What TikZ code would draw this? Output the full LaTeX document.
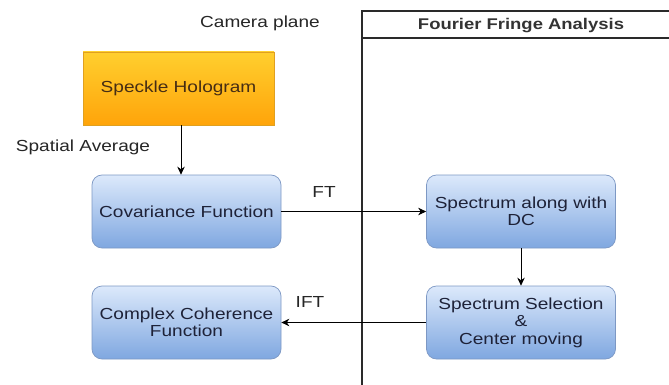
\documentclass[tikz,border=0pt]{standalone}
\usepackage{fontspec}
\setmainfont{Liberation Sans}
\usepackage{graphicx}
\usetikzlibrary{arrows.meta}
\definecolor{bluetop}{HTML}{DCE9FB}
\definecolor{bluebot}{HTML}{7FA7E0}
\definecolor{blueline}{HTML}{7D98C4}
\definecolor{ortop}{HTML}{FFCF2E}
\definecolor{orbot}{HTML}{FFA40A}
\definecolor{orline}{HTML}{E0A020}
\definecolor{txt}{HTML}{1E2238}
\definecolor{frame}{HTML}{2A2A2A}
\newcommand{\sx}[1]{\scalebox{1.19}[1]{#1}}
\tikzset{
  bluebox/.style={rectangle, rounded corners=10pt, draw=blueline, line width=0.7pt,
    top color=bluetop, bottom color=bluebot, minimum width=189pt, minimum height=73pt,
    inner sep=0pt, align=center, text=txt, font=\fontsize{16}{17.5}\selectfont},
  orbox/.style={rectangle, draw=orline, line width=0.7pt,
    top color=ortop, bottom color=orbot, minimum width=191pt, minimum height=73pt,
    inner sep=0pt, align=center, text={rgb,255:red,70;green,45;blue,20}, font=\fontsize{16}{17.5}\selectfont},
  lbl/.style={inner sep=0pt, text=black!85, font=\fontsize{16}{17.5}\selectfont},
  arr/.style={-{Stealth[length=8pt,width=7.5pt]}, line width=0.8pt, black},
  frameline/.style={line width=1.2pt, frame}
}
\begin{document}
\begin{tikzpicture}[x=1pt,y=-1pt]
\useasboundingbox (0,0) rectangle (669,385);
% frame
\coordinate (fb) at (362,385);
\coordinate (ft) at (362,11);
\coordinate (fr) at (669,11);
\coordinate (hl) at (362,38);
\coordinate (hr) at (669,38);
\draw[frameline] (fb) -- (ft) -- (fr);
\draw[frameline] (hl) -- (hr);
\node[lbl, text=black!80, font=\bfseries\fontsize{15.5}{17}\selectfont] (title) at (521,26) {\sx{Fourier Fringe Analysis}};
\node[lbl] (cam) at (260,23) {\sx{Camera plane}};
\node[lbl] (spa) at (83,147) {\sx{Spatial Average}};
% boxes
\node[orbox] (sh) at (178.5,88.5) {\sx{Speckle Hologram}};
\node[bluebox] (cov) at (186.5,211.5) {\sx{Covariance Function}};
\node[bluebox] (sdc) at (521,211.5) {\sx{Spectrum along with}\\\sx{DC}};
\node[bluebox] (ssel) at (521,322.5) {\sx{Spectrum Selection}\\\sx{\&}\\\sx{Center moving}};
\node[bluebox] (cc) at (186.5,322.5) {\sx{Complex Coherence}\\\sx{Function}};
% labels
\node[lbl] (ft) at (324,192) {\sx{FT}};
\node[lbl] (ift) at (310,302) {\sx{IFT}};
% arrows
\draw[arr] ([xshift=2.5pt]sh.south) -- ([xshift=2.5pt]sh.south |- cov.north);
\draw[arr] (cov.east) -- (sdc.west);
\draw[arr] (sdc.south) -- (ssel.north);
\draw[arr] (ssel.west) -- (cc.east);
\end{tikzpicture}
\end{document}
